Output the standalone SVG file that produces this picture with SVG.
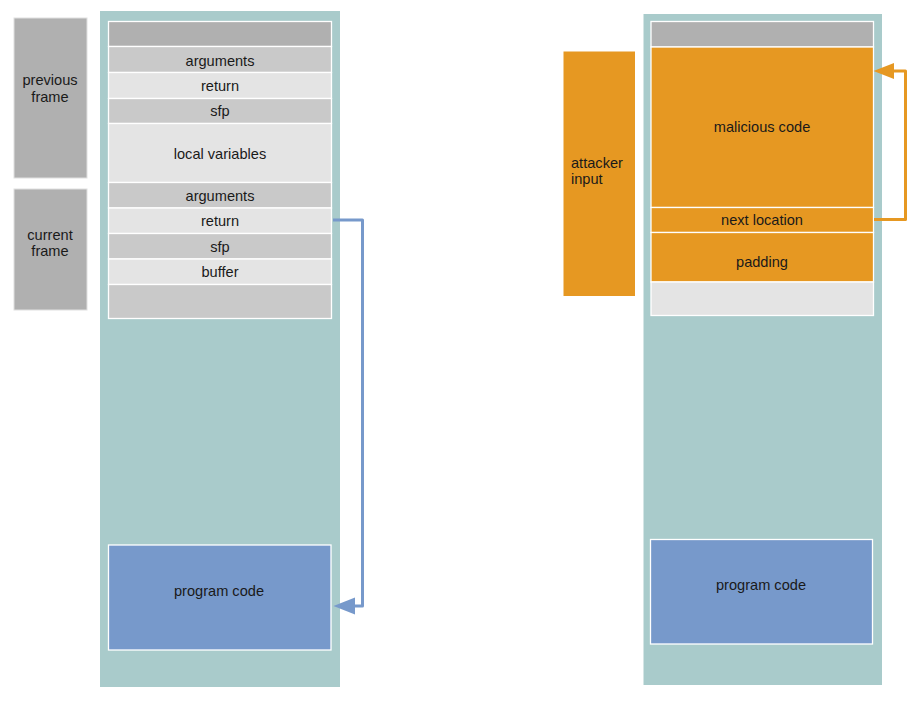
<svg xmlns="http://www.w3.org/2000/svg" width="912" height="703" viewBox="0 0 912 703">
<style>
text{font-family:"Liberation Sans",Arial,sans-serif;font-size:14.6px;fill:#1a1a1a;text-anchor:middle;dominant-baseline:central}
.bg{fill:#a9cbcb}
.row{stroke:#ffffff;stroke-width:1.3}
.dk{fill:#b0b0b0}
.md{fill:#c9c9c9}
.lt{fill:#e4e4e4}
.or{fill:#e69822}
.bl{fill:#7799cb}
.lab{fill:#b0b0b0;stroke:#e0e0e0;stroke-width:1}
.conn{fill:none;stroke-width:3;stroke-linejoin:round}
</style>
<rect width="912" height="703" fill="#ffffff"/>
<g id="left-stack">
<rect class="bg" x="100" y="11" width="240" height="676"/>
<rect class="row dk" x="108.5" y="21.5" width="223" height="25"/>
<rect class="row md" x="108.5" y="46.5" width="223" height="26"/>
<rect class="row lt" x="108.5" y="72.5" width="223" height="26"/>
<rect class="row md" x="108.5" y="98.5" width="223" height="25"/>
<rect class="row lt" x="108.5" y="123.5" width="223" height="59"/>
<rect class="row md" x="108.5" y="182.5" width="223" height="25.5"/>
<rect class="row lt" x="108.5" y="208" width="223" height="25.5"/>
<rect class="row md" x="108.5" y="233.5" width="223" height="25.5"/>
<rect class="row lt" x="108.5" y="259" width="223" height="25.5"/>
<rect class="row md" x="108.5" y="284.5" width="223" height="34"/>
<text x="220" y="61">arguments</text>
<text x="220" y="86">return</text>
<text x="220" y="111">sfp</text>
<text x="220" y="154">local variables</text>
<text x="220" y="196">arguments</text>
<text x="220" y="221">return</text>
<text x="220" y="247">sfp</text>
<text x="220" y="272">buffer</text>
</g>
<g id="previous-frame">
<rect class="lab" x="14" y="18" width="73" height="160"/>
<text x="50" y="80">previous</text>
<text x="50" y="97">frame</text>
</g>
<g id="current-frame">
<rect class="lab" x="14" y="189" width="73" height="121"/>
<text x="50" y="235">current</text>
<text x="50" y="251">frame</text>
</g>
<g id="left-program-code">
<rect class="row bl" x="108.5" y="545" width="222.5" height="105"/>
<text x="219" y="591">program code</text>
</g>
<g id="right-stack">
<rect class="bg" x="643.5" y="14" width="238.5" height="671"/>
<rect class="row dk" x="651" y="21.5" width="222.5" height="25.5"/>
<rect class="row or" x="651" y="47" width="222.5" height="160.5"/>
<rect class="row or" x="651" y="207.5" width="222.5" height="25"/>
<rect class="row or" x="651" y="232.5" width="222.5" height="49.5"/>
<rect class="row lt" x="651" y="282" width="222.5" height="33.5"/>
<text x="762" y="127">malicious code</text>
<text x="762" y="220">next location</text>
<text x="762" y="262">padding</text>
</g>
<g id="attacker-input">
<rect class="or" x="563.5" y="51.5" width="71.5" height="244.5"/>
<text x="571" y="163" style="text-anchor:start">attacker</text>
<text x="571" y="179" style="text-anchor:start">input</text>
</g>
<g id="right-program-code">
<rect class="row bl" x="650.5" y="539.5" width="222" height="104.5"/>
<text x="761" y="585">program code</text>
</g>
<g id="connectors">
<path class="conn" d="M333 220 H362.5 V606 H352" stroke="#7799cb"/>
<polygon points="333.5,606 355,597.5 355,614.5" fill="#7799cb"/>
<path class="conn" d="M874 219.5 H905.5 V71 H892" stroke="#e69822"/>
<polygon points="873.5,71 894,63 894,79" fill="#e69822"/>
</g>
</svg>
